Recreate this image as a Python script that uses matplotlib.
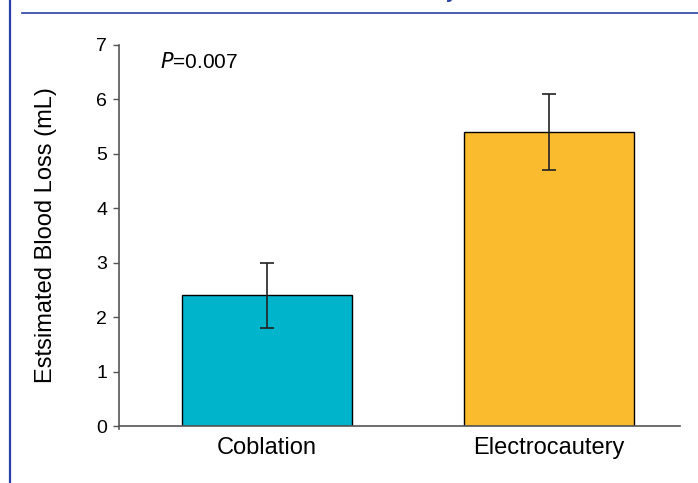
import matplotlib.pyplot as plt
from matplotlib.lines import Line2D

plt.rcParams['font.family'] = ['Liberation Sans', 'DejaVu Sans']

groups = ['Coblation', 'Electrocautery']
blood_loss = [2.4, 5.4]
errors = [0.6, 0.7]
colors = ['#00b4cc', '#fbbb2f']

fig = plt.figure(figsize=(6.98, 4.83), dpi=100)
ax = fig.add_axes([0.1705, 0.118, 0.8035, 0.789])

x = list(range(len(groups)))
ax.bar(x, blood_loss, width=0.603, color=colors, edgecolor='black', linewidth=1.0,
       yerr=errors, error_kw=dict(ecolor='#222222', elinewidth=1.2, capsize=5, capthick=1.2))

ax.set_xlim(-0.525, 1.465)
ax.set_ylim(0, 7)
ax.set_yticks(range(0, 8))
ax.set_xticks(x)
ax.set_xticklabels(groups, fontsize=17)
ax.tick_params(axis='x', length=0, pad=8)
ax.tick_params(axis='y', direction='out', length=4.5, width=1, color='#555555', labelsize=14, pad=4)
for s in ['top', 'right']:
    ax.spines[s].set_visible(False)
for s in ['left', 'bottom']:
    ax.spines[s].set_color('#555555')
    ax.spines[s].set_linewidth(1.2)
ax.spines['left'].set_bounds(-0.05, 7)

ax.set_ylabel('Estsimated Blood Loss (mL)', fontsize=17)
ax.yaxis.set_label_coords(-0.11, 0.5)
ax.text(0.073, 0.955, '$\\mathit{P}$=0.007', transform=ax.transAxes, fontsize=15,
        ha='left', va='center')

# journal page frame lines
blue = '#2b3fa8'
fig.add_artist(Line2D([9.5 / 698, 9.5 / 698], [0, 1], transform=fig.transFigure,
                      color=blue, linewidth=1.6))
fig.add_artist(Line2D([22 / 698, 1], [1 - 13 / 483, 1 - 13 / 483], transform=fig.transFigure,
                      color=blue, linewidth=1.2))
fig.text(446 / 698, 1.0 + 2 / 483, 'y', color=blue, fontsize=14, fontweight='bold',
         ha='left', va='baseline')

fig.savefig('out.png', dpi=100)
